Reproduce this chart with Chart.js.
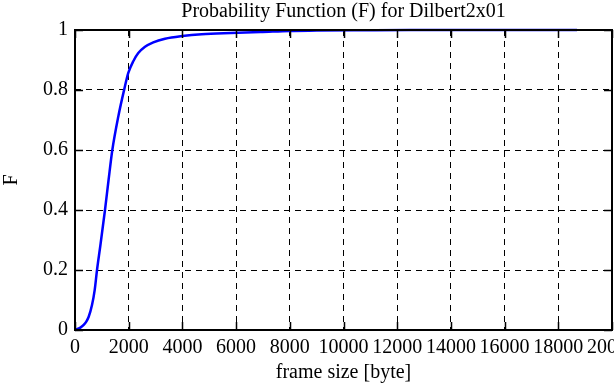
<!DOCTYPE html>
<html>
<head>
<meta charset="utf-8">
<script src="https://cdn.jsdelivr.net/npm/chart.js@4"></script>
<style>
  html, body { margin: 0; padding: 0; background: #fff; overflow: hidden; }
  #wrap { width: 614px; height: 385px; }
</style>
</head>
<body>
<div id="wrap"><canvas id="myChart" width="614" height="385"></canvas></div>
<script>
// frame size in bytes and the cumulative probability
const frameSize = [0, 75, 200, 324, 420, 510, 633, 733, 820, 942, 1117, 1250, 1390, 1613, 1836, 1985, 2171, 2357, 2607, 2916, 3352, 4000, 4718, 5800, 6900, 8000, 9000, 10600, 12500, 14500, 16500, 18700];
const probability = [0, 0.003, 0.008, 0.017, 0.028, 0.044, 0.083, 0.133, 0.2, 0.28, 0.4, 0.5, 0.6, 0.712, 0.803, 0.857, 0.896, 0.923, 0.944, 0.959, 0.971, 0.98, 0.986, 0.99, 0.993, 0.997, 0.998, 0.999, 1, 1, 1, 1];

const xTicks = [0, 2000, 4000, 6000, 8000, 10000, 12000, 14000, 16000, 18000, 20000];
const yTicks = [0, 0.2, 0.4, 0.6, 0.8, 1];

const FONT = { family: 'Liberation Serif', size: 20 };

let points = [];
for (let i = 0; i < frameSize.length; i++) {
  points.push({ x: frameSize[i], y: probability[i] });
}

// gnuplot style frame with small inward ticks on all sides
const frame = {
  id: 'frame',
  afterDraw(chart) {
    const c = chart.ctx;
    const a = chart.chartArea;
    const xs = chart.scales.x;
    const ys = chart.scales.y;
    c.save();
    c.strokeStyle = '#000';
    c.lineWidth = 1.5;
    c.beginPath();
    xs.ticks.forEach(t => {
      const px = Math.round(xs.getPixelForValue(t.value)) + 0.5;
      c.moveTo(px, a.bottom); c.lineTo(px, a.bottom - 8);
      c.moveTo(px, a.top); c.lineTo(px, a.top + 8);
    });
    ys.ticks.forEach(t => {
      const py = Math.round(ys.getPixelForValue(t.value)) + 0.5;
      c.moveTo(a.left, py); c.lineTo(a.left + 8, py);
      c.moveTo(a.right, py); c.lineTo(a.right - 8, py);
    });
    c.stroke();
    c.lineWidth = 2;
    c.strokeRect(a.left, a.top, a.right - a.left, a.bottom - a.top);
    c.restore();
  }
};

const ctx = document.getElementById('myChart').getContext('2d');
const myChart = new Chart(ctx, {
  type: 'scatter',
  data: {
    datasets: [{
      data: points,
      showLine: true,
      borderColor: 'rgb(0, 0, 255)',
      borderWidth: 2.5,
      pointRadius: 0,
      cubicInterpolationMode: 'monotone',
      clip: false
    }]
  },
  options: {
    responsive: false,
    animation: false,
    layout: { padding: { left: 0, right: 2, top: 0, bottom: 0 } },
    plugins: {
      legend: { display: false },
      tooltip: { enabled: false },
      title: {
        display: true,
        fullSize: false,
        text: 'Probability Function (F) for Dilbert2x01',
        color: '#000',
        font: { family: 'Liberation Serif', size: 20, weight: 'normal' },
        padding: { top: 0, bottom: 6 }
      }
    },
    scales: {
      x: {
        type: 'linear',
        min: 0,
        max: 20000,
        afterBuildTicks: (s) => { s.ticks = xTicks.map(v => ({ value: v })); },
        afterFit: (s) => { s.height = 55; s.paddingRight = 0; s.paddingLeft = 0; },
        ticks: {
          color: '#000',
          font: FONT,
          padding: 6,
          maxRotation: 0,
          autoSkip: false,
          callback: (v) => String(v)
        },
        grid: { color: '#000', lineWidth: 1, drawTicks: false },
        border: { display: false, dash: [6, 5] },
        title: {
          display: true,
          text: 'frame size [byte]',
          color: '#000',
          font: FONT,
          padding: { top: 2, bottom: 0 }
        }
      },
      y: {
        min: 0,
        max: 1,
        afterBuildTicks: (s) => { s.ticks = yTicks.map(v => ({ value: v })); },
        afterFit: (s) => { s.width = 75; },
        ticks: {
          color: '#000',
          font: FONT,
          padding: 7,
          callback: (v) => String(v)
        },
        grid: { color: '#000', lineWidth: 1, drawTicks: false },
        border: { display: false, dash: [6, 5] },
        title: {
          display: true,
          text: 'F',
          color: '#000',
          font: FONT,
          padding: { top: 0, bottom: 0 }
        }
      }
    }
  },
  plugins: [frame]
});
</script>
</body>
</html>
